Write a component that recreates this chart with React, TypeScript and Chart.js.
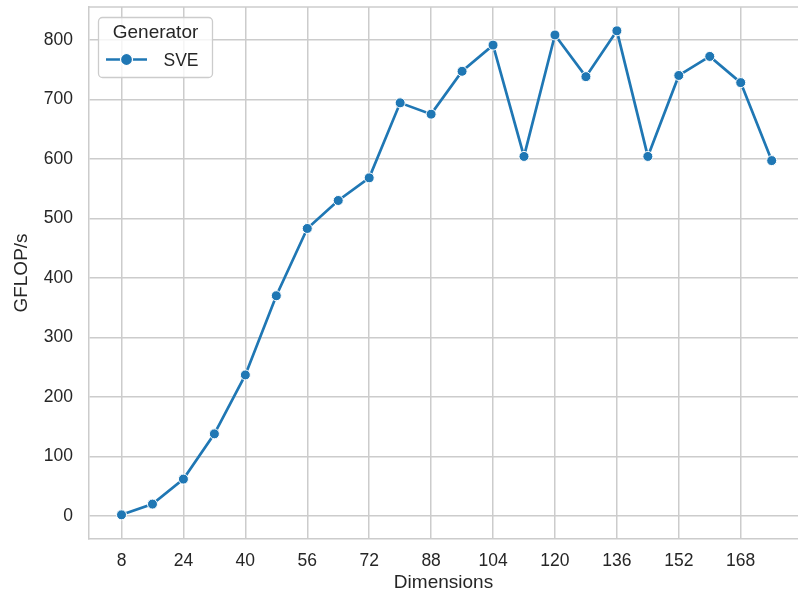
import React, { useEffect, useRef } from "react";
import { Chart, registerables } from "chart.js";

Chart.register(...registerables);

const dimensions = [8, 16, 24, 32, 40, 48, 56, 64, 72, 80, 88, 96, 104, 112, 120, 128, 136, 144, 152, 160, 168, 176];
const gflops = [2, 20, 62, 138, 237, 370, 483, 530, 568, 694, 675, 747, 791, 604, 808, 738, 815, 604, 740, 772, 728, 597];
const xTickValues = [8, 24, 40, 56, 72, 88, 104, 120, 136, 152, 168];
const yTickValues = [0, 100, 200, 300, 400, 500, 600, 700, 800];
const seriesLabel = "SVE";
const legendTitle = "Generator";
const xTitle = "Dimensions";
const yTitle = "GFLOP/s";

const FONT = "'Liberation Sans', Arial, sans-serif";
const TEXT = "#262626";
const GRID = "#cccccc";
const BLUE = "#1f77b4";

const framePlugin = {
  id: "frameAndLegend",
  beforeDatasetsDraw(chart: any) {
    const { ctx, chartArea } = chart;
    ctx.save();
    ctx.strokeStyle = GRID;
    ctx.lineWidth = 1.5;
    ctx.beginPath();
    ctx.moveTo(chartArea.left, chartArea.top);
    ctx.lineTo(chartArea.right, chartArea.top);
    ctx.stroke();
    ctx.restore();
  },
  afterDraw(chart: any) {
    const { ctx, chartArea } = chart;
    const ds = chart.data.datasets[0];
    const bx = chartArea.left + 9.5;
    const by = chartArea.top + 10.5;
    const bw = 114;
    const bh = 60;
    ctx.save();
    ctx.beginPath();
    ctx.roundRect(bx, by, bw, bh, 4);
    ctx.fillStyle = "rgba(255,255,255,0.8)";
    ctx.fill();
    ctx.strokeStyle = GRID;
    ctx.lineWidth = 1.3;
    ctx.stroke();

    ctx.fillStyle = TEXT;
    ctx.font = `19px ${FONT}`;
    ctx.textAlign = "center";
    ctx.textBaseline = "alphabetic";
    ctx.fillText(legendTitle, bx + bw / 2, by + 20);

    const ly = by + 42;
    ctx.strokeStyle = ds.borderColor;
    ctx.lineWidth = 2.7;
    ctx.beginPath();
    ctx.moveTo(bx + 7.5, ly);
    ctx.lineTo(bx + 48.5, ly);
    ctx.stroke();
    ctx.beginPath();
    ctx.arc(bx + 28, ly, 6, 0, Math.PI * 2);
    ctx.fillStyle = ds.borderColor;
    ctx.fill();
    ctx.strokeStyle = "#ffffff";
    ctx.lineWidth = 1.2;
    ctx.stroke();

    ctx.fillStyle = TEXT;
    ctx.font = `17.5px ${FONT}`;
    ctx.textAlign = "left";
    ctx.fillText(ds.label, bx + 65, ly + 6.5);
    ctx.restore();
  },
};

export default function App() {
  const ref = useRef<HTMLCanvasElement>(null);
  useEffect(() => {
    if (!ref.current) return;
    const chart = new Chart(ref.current, {
      type: "line",
      data: {
        datasets: [
          {
            label: seriesLabel,
            data: dimensions.map((d, i) => ({ x: d, y: gflops[i] })),
            borderColor: BLUE,
            backgroundColor: BLUE,
            borderWidth: 2.7,
            pointRadius: 5,
            pointBackgroundColor: BLUE,
            pointBorderColor: "#ffffff",
            pointBorderWidth: 1,
            tension: 0,
          },
        ],
      },
      plugins: [framePlugin],
      options: {
        responsive: false,
        animation: false,
        devicePixelRatio: 1,
        layout: { autoPadding: false, padding: { left: 0, top: 7, right: 0, bottom: 0 } },
        plugins: { legend: { display: false }, tooltip: { enabled: false } },
        scales: {
          x: {
            type: "linear",
            min: -0.4,
            max: 182.8,
            afterBuildTicks: (s: any) => {
              s.ticks = xTickValues.map((v) => ({ value: v }));
            },
            afterFit: (s: any) => {
              s.height = 60;
              s.paddingLeft = 0;
              s.paddingRight = 0;
            },
            grid: { color: GRID, lineWidth: 1.5, drawTicks: false },
            border: { color: GRID, width: 1.5 },
            ticks: {
              color: TEXT,
              padding: 12,
              font: { family: FONT, size: 17.5 },
              maxRotation: 0,
              autoSkip: false,
            },
            title: {
              display: true,
              text: xTitle,
              color: TEXT,
              font: { family: FONT, size: 19 },
              padding: { top: 0, bottom: 5 },
            },
          },
          y: {
            type: "linear",
            min: -38.6,
            max: 855,
            afterBuildTicks: (s: any) => {
              s.ticks = yTickValues.map((v) => ({ value: v }));
            },
            afterFit: (s: any) => {
              s.width = 89;
              s.paddingTop = 0;
              s.paddingBottom = 0;
            },
            grid: { color: GRID, lineWidth: 1.5, drawTicks: false },
            border: { color: GRID, width: 1.5 },
            ticks: {
              color: TEXT,
              padding: 16,
              font: { family: FONT, size: 17.5 },
              autoSkip: false,
            },
            title: {
              display: true,
              text: yTitle,
              color: TEXT,
              font: { family: FONT, size: 19 },
              padding: { top: 10, bottom: 0 },
            },
          },
        },
      },
    } as any);
    return () => chart.destroy();
  }, []);
  return (
    <div style={{ position: "absolute", left: 0, top: 0, width: 798, height: 599, background: "#ffffff" }}>
      <canvas ref={ref} width={798} height={599} style={{ display: "block" }} />
    </div>
  );
}
